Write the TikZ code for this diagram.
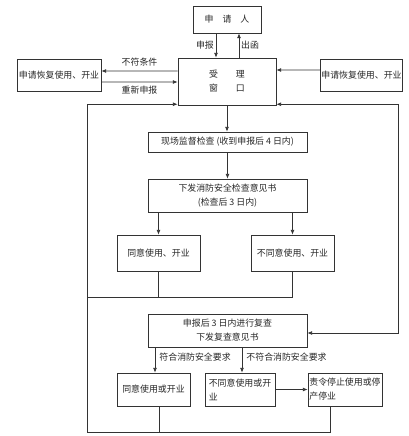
\documentclass[tikz,border=0pt]{standalone}
\usepackage{fontspec}
\setmainfont{Noto Sans CJK SC}
\usepackage{tikz}
\usetikzlibrary{arrows.meta,positioning}
\definecolor{lnCol}{HTML}{333333}
\definecolor{txtCol}{HTML}{262626}
\tikzset{
  box/.style={draw=lnCol, line width=0.7pt, font=\fontsize{7.6}{12}\selectfont,
              text=txtCol, align=center, inner sep=0.5pt},
  flow/.style={-{Latex[length=4pt,width=3.4pt]}, draw=lnCol, line width=0.6pt},   % one-way step
  both/.style={{Latex[length=4pt,width=3.4pt]}-{Latex[length=4pt,width=3.4pt]}, draw=lnCol, line width=0.6pt}, % return loop
  link/.style={draw=lnCol, line width=0.6pt},
  lbl/.style={font=\fontsize{7.6}{10}\selectfont, text=txtCol, inner sep=1.5pt},
}

\begin{document}
\begin{tikzpicture}[x=0.03cm, y=-0.03cm]
  \useasboundingbox (0,0) rectangle (408,436);
  \def\xL{87}\def\xR{398}\def\yJ{297}\def\yB{432}

  \node[box, minimum width=2.04cm, minimum height=0.81cm] (app) at (227,19.5) {申\quad 请\quad 人};
  \node[box, minimum width=2.94cm, minimum height=1.41cm] (acc) at (227,81.5) {受\qquad 理\\窗\qquad 口};
  \node[box, minimum width=2.52cm, minimum height=0.96cm] (rl) at (59,75) {申请恢复使用、开业};
  \node[box, minimum width=2.43cm, minimum height=0.96cm] (rr) at (361.5,75) {申请恢复使用、开业};
  \node[box, minimum width=4.77cm, minimum height=0.6cm] (site) at (227.5,142) {现场监督检查 (收到申报后 4 日内)};
  \node[box, minimum width=4.77cm, minimum height=0.99cm] (opin) at (227.5,195.5) {下发消防安全检查意见书\\(检查后 3 日内)};
  \node[box, minimum width=2.49cm, minimum height=1.08cm] (ok1) at (158.5,253) {同意使用、开业};
  \node[box, minimum width=2.49cm, minimum height=1.08cm] (no1) at (292.5,253) {不同意使用、开业};
  \node[box, minimum width=4.77cm, minimum height=0.99cm] (rev) at (227.5,330.5) {申报后 3 日内进行复查\\下发复查意见书};
  \node[box, minimum width=2.19cm, minimum height=0.99cm] (ok2) at (153.5,389.5) {同意使用或开业};
  \node[box, minimum width=2.1cm, minimum height=0.99cm, align=left] (no2) at (240,389.5) {不同意使用或开\\业};
  \node[box, minimum width=2.22cm, minimum height=0.99cm, align=left] (stop) at (345,389.5) {责令停止使用或停\\产停业};

  \coordinate (jn) at (\xL,\yJ);
  \coordinate (bl) at (\xL,\yB);
  \coordinate (rb) at (\xR,333);
  \coordinate (aL) at ([yshift=1pt]acc.south west);
  \coordinate (aR) at ([yshift=1pt]acc.south east);

  % top exchange
  \draw[flow] ([xshift=-0.33cm]app.south) -- ([xshift=-0.33cm]acc.north) node[lbl, midway, left]{申报};
  \draw[flow] ([xshift=0.36cm]acc.north) -- ([xshift=0.36cm]app.south) node[lbl, midway, right]{出函};
  \draw[flow] ([yshift=0.315cm]acc.west) -- ([yshift=0.12cm]rl.east) node[lbl, midway, above=2pt]{不符条件};
  \draw[flow] ([yshift=-0.21cm]rl.east) -- ([yshift=-0.015cm]acc.west) node[lbl, midway, below=2pt]{重新申报};
  \draw[flow] ([yshift=0.15cm]rr.west) -- ([yshift=0.345cm]acc.east);

  % inspection
  \draw[flow] (acc.south) -- (acc.south |- site.north);
  \draw[flow] (site.south) -- (opin.north);
  \draw[flow] (ok1.north |- opin.south) -- (ok1.north);
  \draw[flow] (no1.north |- opin.south) -- (no1.north);
  \draw[link] (ok1.south) -- (ok1.south |- jn);
  \draw[link] (no1.south) |- (jn);

  % review
  \draw[flow] ([xshift=0.045cm]ok2.north |- rev.south) -- ([xshift=0.045cm]ok2.north)
    node[lbl, pos=0.4, right=2pt]{符合消防安全要求};
  \draw[flow] ([xshift=0.06cm]no2.north |- rev.south) -- ([xshift=0.06cm]no2.north)
    node[lbl, pos=0.4, right=2pt]{不符合消防安全要求};
  \draw[flow] (no2.east) -- (stop.west);
  \draw[link] ([xshift=0.165cm]ok2.south) -- ([xshift=0.165cm]ok2.south |- bl);
  \draw[link] ([xshift=-0.45cm]stop.south) |- (bl);

  % loops back to the window
  \draw[flow] (bl) |- (aL);
  \draw[both] (aR) -| (rb) -- (rb -| rev.east);
\end{tikzpicture}
\end{document}
